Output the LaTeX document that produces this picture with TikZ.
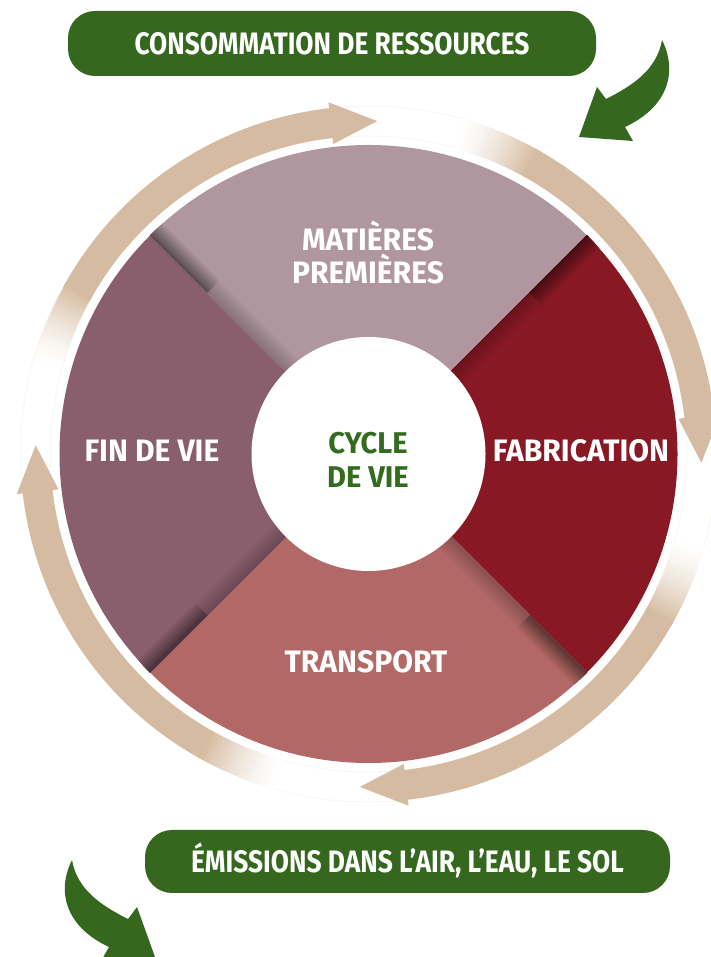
\documentclass[tikz,border=0pt]{standalone}
\usepackage{fontspec}
\newfontfamily\lbl{Fira Sans}[FakeStretch=0.97]
\newfontfamily\lblb{Fira Sans}[FakeStretch=0.85]
\definecolor{matC}{HTML}{B0969F}
\definecolor{fabC}{HTML}{881924}
\definecolor{traC}{HTML}{B26866}
\definecolor{finC}{HTML}{8A5F6D}
\definecolor{tanC}{HTML}{D5BBA1}
\definecolor{grnC}{HTML}{35671E}
\definecolor{txtG}{HTML}{336B1F}
\tikzset{
  lab/.style={font=\lbl\bfseries\fontsize{31}{33}\selectfont, text=white, align=center, anchor=base, inner sep=0pt},
  bantext/.style={font=\lblb\bfseries\fontsize{31}{33}\selectfont, text=white, anchor=base, inner sep=0pt},
  banner/.style={fill=grnC, rounded corners=27pt, inner sep=0pt, draw=none},
  grnarrow/.style={fill=grnC, draw=none},
}
\newcommand{\grnarrowpath}{(662,917) .. controls (678,885) and (668,850) .. (625,830) -- (633,816) -- (579,820) -- (597,870) -- (606,858) .. controls (634,872) and (657,888) .. (662,917) -- cycle}
\begin{document}
\begin{tikzpicture}[x=1pt,y=1pt]
\useasboundingbox (0,0) rectangle (711,957);
\fill[white] (0,0) rectangle (711,957);
\coordinate (C) at (368.5,503);

% ---- ring arrows ----
\begin{scope}[shift={(C)}]
\foreach \t in {88.5,-1.5,-91.5,178.5}{
  \pgfmathsetmacro\la{\t+8}
  \pgfmathsetmacro\lb{\t-27}
  \draw[tanC!22, line width=0.5pt] (\la:318pt) arc[start angle=\la, end angle=\lb, radius=318pt];
  \draw[tanC!22, line width=0.5pt] (\la:348pt) arc[start angle=\la, end angle=\lb, radius=348pt];
  \foreach \i in {0,...,27}{
    \pgfmathsetmacro\a{\t+76-\i*0.5}
    \pgfmathsetmacro\b{\a-0.7}
    \pgfmathsetmacro\p{100*((\i+1)/28)^1.5}
    \fill[tanC!\p!white] (\a:318pt) arc[start angle=\a, end angle=\b, radius=318pt]
      -- (\b:348pt) arc[start angle=\b, end angle=\a, radius=348pt] -- cycle;
  }
  \pgfmathsetmacro\sa{\t+62.4}
  \pgfmathsetmacro\sb{\t+7.8}
  \fill[tanC] (\sa:318pt) arc[start angle=\sa, end angle=\sb, radius=318pt]
    -- (\sb:348pt) arc[start angle=\sb, end angle=\sa, radius=348pt] -- cycle;
  \pgfmathsetmacro\hb{\t+8}
  \fill[tanC] (\hb:312pt) -- (\t:333pt) -- (\hb:354pt) -- cycle;
}
\end{scope}

% ---- disk ----
\begin{scope}[shift={(C)}]
\fill[matC] (0,0) -- (45:309pt) arc[start angle=45, end angle=135, radius=309pt] -- cycle;
\fill[finC] (0,0) -- (135:309pt) arc[start angle=135, end angle=225, radius=309pt] -- cycle;
\fill[traC] (0,0) -- (225:309pt) arc[start angle=225, end angle=315, radius=309pt] -- cycle;
\fill[fabC] (0,0) -- (-45:309pt) arc[start angle=-45, end angle=45, radius=309pt] -- cycle;
\begin{scope}
  \clip (0,0) circle[radius=309pt];
  \foreach \b/\S in {135/matC,45/fabC,-45/traC,225/finC}{
    \begin{scope}[rotate=\b]
      \foreach \i in {1,...,14}{
        \pgfmathsetmacro\w{18*(15-\i)/14}
        \pgfmathsetmacro\p{100-22*\i/14}
        \fill[\S!\p!black] (110,0) rectangle (229,-\w);
        \pgfmathsetmacro\q{100-48*\i/14}
        \fill[\S!\q!black] (228,0) rectangle (315,-\w);
      }
    \end{scope}
  }
\end{scope}
\fill[white] (0,0) circle[radius=117pt];
\end{scope}

% ---- labels ----
\node[lab] (mat) at (368,673) {MATIÈRES\\PREMIÈRES};
\node[lab] (fab) at (581,495) {FABRICATION};
\node[lab] (fin) at (152,495) {FIN DE VIE};
\node[lab] (tra) at (366,284) {TRANSPORT};
\node[lab, text=txtG, font=\lbl\bfseries\fontsize{30}{34}\selectfont] (cyc) at (368,469) {CYCLE\\DE VIE};

% ---- banners ----
\node[banner, minimum width=528pt, minimum height=65pt] (topban) at (332,913.5) {};
\node[bantext] (toptxt) at (332,902) {CONSOMMATION DE RESSOURCES};
\node[banner, minimum width=525pt, minimum height=63pt] (botban) at (407.5,95.5) {};
\node[bantext] (bottxt) at (407.5,84) {ÉMISSIONS DANS L’AIR, L’EAU, LE SOL};

% ---- green arrows ----
\fill[grnarrow] \grnarrowpath;
\begin{scope}[xshift=734pt, yshift=-820pt, xscale=-1]
  \fill[grnarrow] \grnarrowpath;
\end{scope}
\end{tikzpicture}
\end{document}
